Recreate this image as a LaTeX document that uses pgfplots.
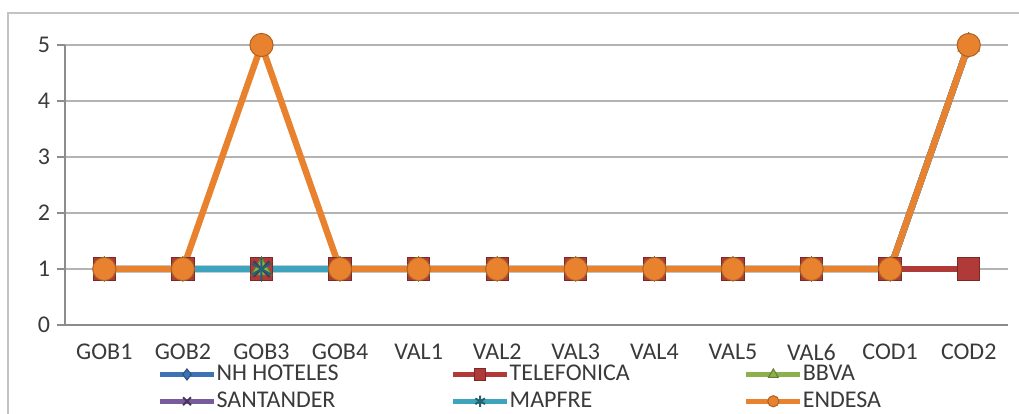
\documentclass[border=0pt]{standalone}
\usepackage{pgfplots}
\pgfplotsset{compat=1.18}
\usepackage{fontspec}
\setmainfont{Carlito}
\definecolor{nh}{HTML}{3D72B4}
\definecolor{tel}{HTML}{B03A37}
\definecolor{bbva}{HTML}{8CB04C}
\definecolor{san}{HTML}{7A5A9E}
\definecolor{map}{HTML}{3EA3BC}
\definecolor{endc}{HTML}{E8822E}
\definecolor{txt}{HTML}{3A3A3A}
\definecolor{axc}{HTML}{8C8C8C}
\definecolor{grd}{HTML}{B4B4B4}
\begin{document}
\begin{tikzpicture}
\useasboundingbox (-32.5pt,-44pt) rectangle (477pt,162.5pt);
\draw[grd!80, line width=0.7pt] (-28.5pt,-60pt) rectangle (500pt,156pt);
\begin{axis}[
  at={(0,0)}, anchor=south west,
  scale only axis, width=471.5pt, height=140pt,
  xmin=-0.5, xmax=11.5, ymin=0, ymax=5,
  axis x line=bottom, axis y line=left,
  axis line style={axc, line width=0.6pt, -},
  xtick={0,...,11},
  xticklabels={GOB1,GOB2,GOB3,GOB4,VAL1,VAL2,VAL3,VAL4,VAL5,VAL6,COD1,COD2},
  x tick style={draw=none},
  minor xtick={-0.5,0.5,...,11.5},
  minor x tick style={axc, line width=0.6pt},
  minor tick length=4pt,
  ytick={0,...,5},
  y tick style={axc, line width=0.6pt},
  major tick length=4pt,
  tick align=outside,
  ymajorgrids, grid style={grd, line width=0.6pt},
  tick label style={font=\fontsize{12}{14}\selectfont, text=txt},
  xticklabel style={yshift=-2pt},
  /pgf/number format/assume math mode=true,
  every axis plot/.append style={line width=3.2pt},
  legend columns=3,
  legend style={at={(0.0975,-0.14)}, anchor=north west, draw=none, fill=none,
    inner sep=0pt, font=\fontsize{12}{14}\selectfont, text=txt,
    row sep=3.5pt,
    nodes={inner xsep=0pt, inner ysep=0.3pt}},
  legend image code/.code={\draw[#1, line width=2.6pt, mark size=2.8pt, mark repeat=2, mark phase=2] plot coordinates {(0pt,0pt)(13.5pt,0pt)(27pt,0pt)};},
]
\addplot[nh, mark=diamond*, mark size=6pt, mark options={fill=nh, draw=nh!70!black, line width=0.5pt}]
  coordinates {(0,1)(1,1)(2,1)(3,1)(4,1)(5,1)(6,1)(7,1)(8,1)(9,1)(10,1)(11,5)};
\addlegendentry{\makebox[117pt][l]{NH HOTELES}}
\addplot[tel, mark=square*, mark size=5.6pt, mark options={fill=tel, draw=tel!70!black, line width=0.5pt}]
  coordinates {(0,1)(1,1)(2,1)(3,1)(4,1)(5,1)(6,1)(7,1)(8,1)(9,1)(10,1)(11,1)};
\addlegendentry{\makebox[117pt][l]{TELEFONICA}}
\addplot[bbva, mark=triangle*, mark size=6pt, mark options={fill=bbva, draw=bbva!70!black, line width=0.5pt}]
  coordinates {(0,1)(1,1)(2,1)(3,1)(4,1)(5,1)(6,1)(7,1)(8,1)(9,1)(10,1)(11,5)};
\addlegendentry{\makebox[117pt][l]{BBVA}}
\addplot[san, mark=x, mark size=5.6pt, mark options={draw=san!60!black, line width=1pt}]
  coordinates {(0,1)(1,1)(2,1)(3,1)(4,1)(5,1)(6,1)(7,1)(8,1)(9,1)(10,1)(11,5)};
\addlegendentry{\makebox[117pt][l]{SANTANDER}}
\addplot[map, mark=asterisk, mark size=5.6pt, mark options={draw=map!60!black, line width=1pt}]
  coordinates {(0,1)(1,1)(2,1)(3,1)(4,1)(5,1)(6,1)(7,1)(8,1)(9,1)(10,1)(11,5)};
\addlegendentry{\makebox[117pt][l]{MAPFRE}}
\addplot[endc, mark=*, mark size=5.8pt, mark options={fill=endc, draw=endc!75!black, line width=0.5pt}]
  coordinates {(0,1)(1,1)(2,5)(3,1)(4,1)(5,1)(6,1)(7,1)(8,1)(9,1)(10,1)(11,5)};
\addlegendentry{\makebox[117pt][l]{ENDESA}}
\end{axis}
\end{tikzpicture}
\end{document}
